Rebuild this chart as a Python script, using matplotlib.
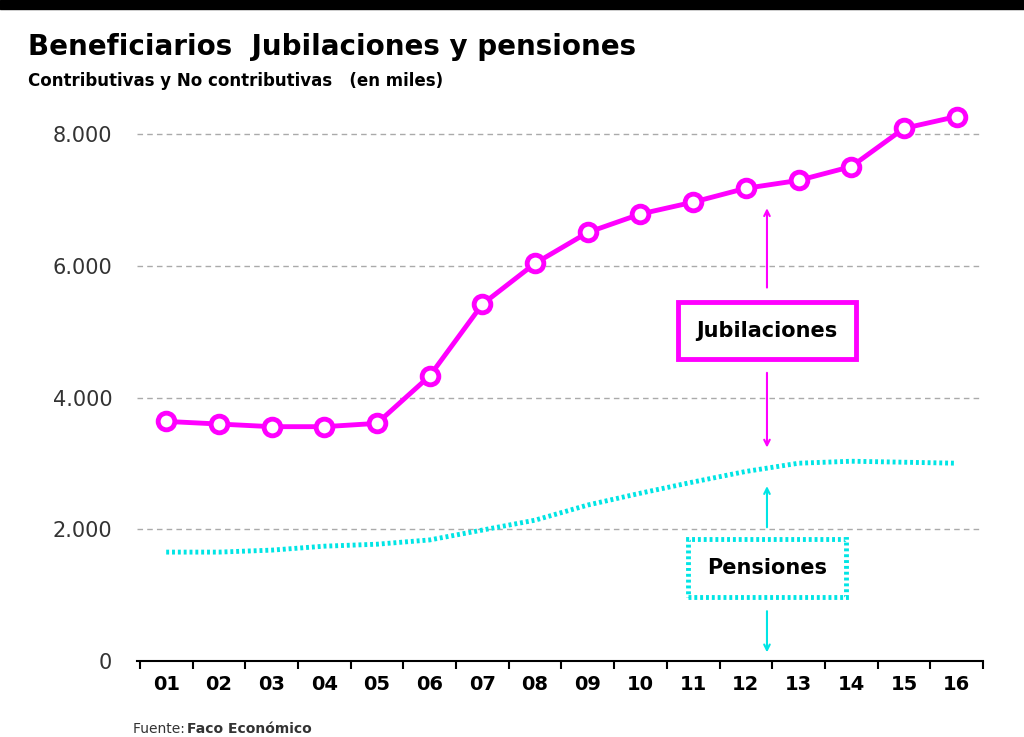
import matplotlib
matplotlib.use("Agg")
import matplotlib.pyplot as plt
import numpy as np

years = ["01","02","03","04","05","06","07","08","09","10","11","12","13","14","15","16"]
jubilaciones = [3640,3600,3560,3560,3610,4330,5420,6040,6510,6790,6970,7180,7300,7510,8090,8270]
pensiones = [1655,1655,1685,1745,1775,1840,1990,2140,2370,2550,2720,2880,3005,3035,3020,3005]
yticks = [0,2000,4000,6000,8000]
yticklabels = ["0","2.000","4.000","6.000","8.000"]

mag = "#ff00ff"; cyan = "#00e5e5"
fig = plt.figure(figsize=(10.24,7.37), dpi=100)
fig.patches.append(plt.Rectangle((0,0.988),1,0.012,transform=fig.transFigure,color="black"))
ax = fig.add_axes([0.134,0.103,0.826,0.78])
x = np.arange(len(years))
ax.plot(x, jubilaciones, color=mag, lw=3.5, marker="o", ms=12, mfc="white", mec=mag, mew=3.5, zorder=3)
ax.plot(x, pensiones, color=cyan, lw=3.5, ls=(0,(0.6,0.6)))
ax.set_xlim(-0.55, 15.5)
ax.set_ylim(0, 8730)
ax.set_yticks(yticks, yticklabels, fontsize=15, color="#333")
ax.set_xticks(x, years, fontsize=14, fontweight="bold")
ax.set_xticks(np.arange(-0.5,15.6,1), minor=True)
ax.tick_params(axis="x", which="major", length=0, pad=10)
ax.tick_params(axis="x", which="minor", length=6, width=1.5)
ax.tick_params(axis="y", length=0, pad=18)
for s in ["top","right","left"]: ax.spines[s].set_visible(False)
ax.spines["bottom"].set_linewidth(1.5)
ax.grid(axis="y", ls=(0,(4,3)), color="#aaa", lw=1)
bx = 11.4
ax.text(bx, 5020, "Jubilaciones", ha="center", va="center", fontsize=15, fontweight="bold",
        bbox=dict(boxstyle="square,pad=0.9", fc="white", ec=mag, lw=3.5), zorder=5)
ax.text(bx, 1410, "Pensiones", ha="center", va="center", fontsize=15, fontweight="bold",
        bbox=dict(boxstyle="square,pad=0.9", fc="white", ec=cyan, lw=3.5, ls=(0,(0.6,0.6))), zorder=5)
ax.texts[-2].get_bbox_patch().set_boxstyle("square,pad=0.9")
ap = dict(arrowstyle="->", lw=1.5)
ax.annotate("", xy=(bx,6920), xytext=(bx,5630), arrowprops=dict(color=mag, **ap))
ax.annotate("", xy=(bx,3200), xytext=(bx,4420), arrowprops=dict(color=mag, **ap))
ax.annotate("", xy=(bx,2700), xytext=(bx,1990), arrowprops=dict(color=cyan, **ap))
ax.annotate("", xy=(bx,90), xytext=(bx,800), arrowprops=dict(color=cyan, **ap))
fig.text(0.027,0.925,"Beneficiarios  Jubilaciones y pensiones", fontsize=20, fontweight="bold")
fig.text(0.027,0.883,"Contributivas y No contributivas   (en miles)", fontsize=12, fontweight="bold")
fig.text(0.13,0.005,"Fuente: ", fontsize=10, color="#333")
fig.text(0.183,0.005,"Faco Económico", fontsize=10, fontweight="bold", color="#333")
fig.savefig("out.png", dpi=100)
